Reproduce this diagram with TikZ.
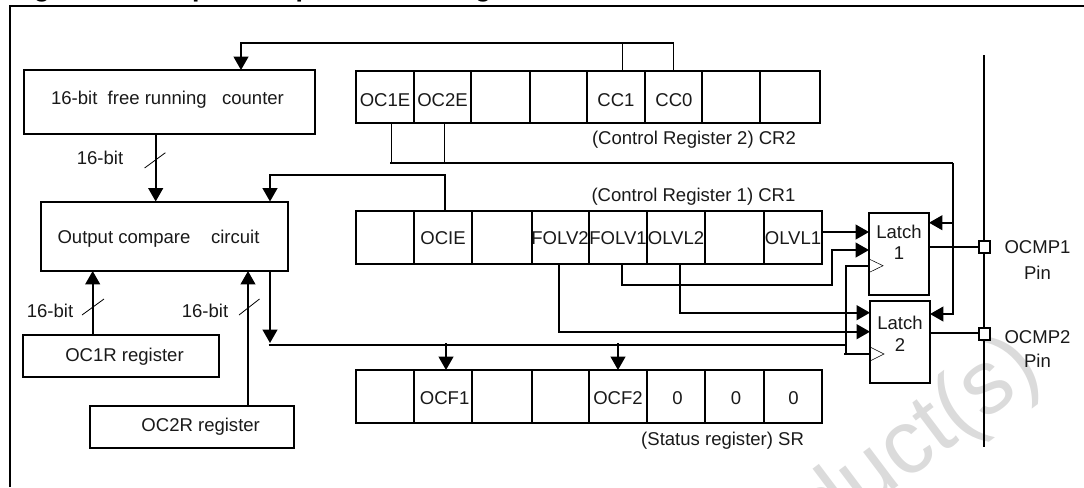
\documentclass[tikz,border=0pt]{standalone}
\usepackage{fontspec}
\setmainfont{Liberation Sans}
\usetikzlibrary{arrows.meta}
\tikzset{
  x=0.75pt,y=-0.75pt,
  txt/.style={inner sep=0pt,font=\fontsize{13.9pt}{15pt}\selectfont,text=black!90},
  box/.style={draw=black,line width=1.5pt,fill=none},
  wire/.style={draw=black,line width=1.4pt},
  thin wire/.style={draw=black,line width=0.6pt},
  head/.style={-{Triangle[length=10pt,width=11pt]}},
  slash/.style={draw=black,line width=0.6pt},
  clk/.style={draw=black,line width=0.4pt}
}
\begin{document}
\begin{tikzpicture}
\useasboundingbox (0,0) rectangle (1084,487);
% watermark
\begin{scope}
\clip (0,0) rectangle (1084,487);
\node[inner sep=0pt,rotate=37,text=black!14,font=\fontsize{68pt}{72pt}\selectfont] (wm) at (920,441) {duct(s)};
% clipped title
\node[inner sep=0pt,anchor=base west,font=\bfseries\fontsize{20pt}{22pt}\selectfont] (title) at (10,-4) {Figure 41. Output compare block diagram};
\end{scope}
% frame
\coordinate (fa) at (10,487); \coordinate (fb) at (10,6); \coordinate (fc) at (1084,6);
\draw[line width=1.4pt] (fa) -- (fb) -- (fc);
% boxes
\draw[box] (24,70) rectangle (314.5,134);
\draw[box] (41,201.5) rectangle (288,271);
\draw[box] (23,334.7) rectangle (219,377);
\draw[box] (90,405.7) rectangle (294,448);
\draw[box] (869,213) rectangle (929,295);
\draw[box] (870,301) rectangle (930,383);
% registers
\draw[box] (356,71) rectangle (819.5,123);
\foreach \x in {414,471,529.5,587,645,702,760} \draw[box] (\x,71) -- (\x,123);
\draw[box] (356,211) rectangle (822,264);
\foreach \x in {414,472,531.5,589,647,705,764} \draw[box] (\x,211) -- (\x,264);
\draw[box] (356,370) rectangle (822,422.7);
\foreach \x in {414,472,531.5,589,647,705,764} \draw[box] (\x,370) -- (\x,422.7);
% text
\node[txt] (t1) at (167.5,100) {16-bit\ \ free running\ \ \ counter};
\node[txt] (t2) at (158.5,239) {Output compare\ \ \ \ circuit};
\node[txt] (t3) at (124.5,357) {OC1R register};
\node[txt] (t4) at (200.7,426.7) {OC2R register};
\node[txt] at (100,158) {16-bit};
\node[txt] at (50,311) {16-bit};
\node[txt] at (205,311) {16-bit};
\node[txt] at (385,100) {OC1E};
\node[txt] at (442.5,100) {OC2E};
\node[txt] at (616,100) {CC1};
\node[txt] at (674,100) {CC0};
\node[txt] at (694,140) {(Control Register 2) CR2};
\node[txt] at (693.5,197) {(Control Register 1) CR1};
\node[txt] at (443,238) {OCIE};
\node[txt] at (560,238) {FOLV2};
\node[txt] at (618,238) {FOLV1};
\node[txt] at (676,238) {OLVL2};
\node[txt] at (793,238) {OLVL1};
\node[txt] at (444.6,397.7) {OCF1};
\node[txt] at (618,397.7) {OCF2};
\node[txt] at (677.6,397.7) {0};
\node[txt] at (736,397.7) {0};
\node[txt] at (793.5,397.7) {0};
\node[txt] at (722.6,441) {(Status register) SR};
\node[txt] at (899,232) {Latch};
\node[txt] at (899,253) {1};
\node[txt] at (900,323) {Latch};
\node[txt] at (900,345) {2};
\node[txt] at (1037.5,247) {OCMP1};
\node[txt] at (1037.5,272.7) {Pin};
\node[txt] at (1037.5,336.7) {OCMP2};
\node[txt] at (1037.5,360.7) {Pin};
% top wire
\draw[wire,head] (673.5,43) -- (241,43) -- (241,70);
\draw[thin wire] (673.5,43) -- (673.5,71);
\draw[thin wire] (622,43) -- (622,70);
% CR2 enable
\draw[thin wire] (391,123) -- (391,163);
\draw[thin wire] (444,123) -- (444,163);
\draw[wire] (390,163) -- (953,163);
\draw[wire,head] (953,163) -- (953,314) -- (930,314);
\draw[wire,head] (953,222.7) -- (929,222.7);
% OCIE
\draw[wire,head] (445,211) -- (445,174.7) -- (270,174.7) -- (270,201.5);
% counter to compare
\draw[wire,head] (155.7,134) -- (155.7,201.5);
\draw[slash] (144.6,168) -- (165.4,152.7);
% OC1R/OC2R
\draw[wire,head] (92.7,334.7) -- (92.7,271);
\draw[slash] (82,315) -- (104,299);
\draw[wire,head] (248,405.7) -- (248,271);
\draw[slash] (239,315) -- (259.5,299);
% bus
\draw[wire,head] (270,271) -- (270,343);
\draw[wire] (268.5,345) -- (846,345);
\draw[wire,head] (446,343) -- (446,370);
\draw[wire,head] (618,343) -- (618,370);
% latch inputs
\draw[wire,head] (822,232) -- (869,232);
\draw[wire,head] (622,264) -- (622,285) -- (832,285) -- (832,250) -- (869,250);
\draw[wire,head] (680,264) -- (680,312.7) -- (870,312.7);
\draw[wire,head] (558.6,264) -- (558.6,331.7) -- (870,331.7);
% clock
\draw[wire] (869,265.7) -- (845.7,265.7) -- (845.7,355);
\draw[wire] (844,354) -- (870,354);
\draw[clk] (869,259) -- (883,265.7) -- (869,272.5);
\draw[clk] (870,347) -- (884,354) -- (870,361);
% pin line
\draw[wire] (984,55) -- (984,447);
\draw[wire] (929,247) -- (979,247);
\draw[wire] (930,333) -- (979,333);
\draw[box,fill=white] (979,241) rectangle (990,253);
\draw[box,fill=white] (979,327.7) rectangle (990,340);
\end{tikzpicture}
\end{document}
